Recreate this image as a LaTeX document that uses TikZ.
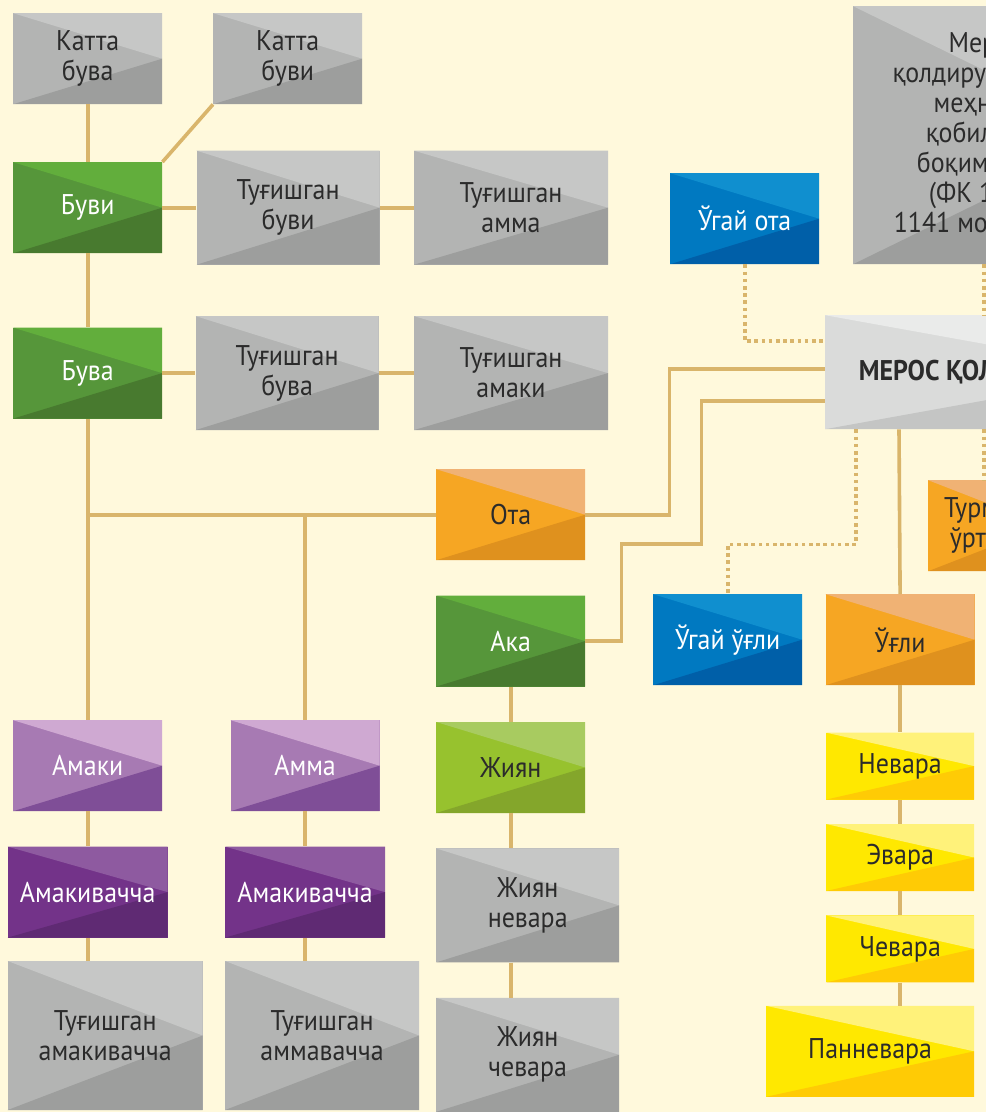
\documentclass[tikz,border=0pt]{standalone}
\usepackage{fontspec}
\setmainfont[FakeStretch=0.91]{PT Sans}
\usetikzlibrary{positioning,calc}

\definecolor{fond}{HTML}{FFF9DC}
\definecolor{lien}{HTML}{D9B56B}
\definecolor{encre}{HTML}{2B2B2B}
\definecolor{gA}{HTML}{B3B4B3}\definecolor{gB}{HTML}{C6C7C6}\definecolor{gC}{HTML}{9D9E9D}
\definecolor{vA}{HTML}{56963A}\definecolor{vB}{HTML}{62AE3C}\definecolor{vC}{HTML}{487A2F}
\definecolor{oA}{HTML}{F6A623}\definecolor{oB}{HTML}{F0B274}\definecolor{oC}{HTML}{DF911E}
\definecolor{bA}{HTML}{0079C1}\definecolor{bB}{HTML}{108FCF}\definecolor{bC}{HTML}{005FA8}
\definecolor{lA}{HTML}{A77AB3}\definecolor{lB}{HTML}{CFA9D2}\definecolor{lC}{HTML}{7F4E97}
\definecolor{pA}{HTML}{733389}\definecolor{pB}{HTML}{8E5AA0}\definecolor{pC}{HTML}{5F2A73}
\definecolor{jA}{HTML}{97C22E}\definecolor{jB}{HTML}{A8CB60}\definecolor{jC}{HTML}{84A62B}
\definecolor{yA}{HTML}{FFE800}\definecolor{yB}{HTML}{FFF27A}\definecolor{yC}{HTML}{FFCB05}
\definecolor{mA}{HTML}{DADBDA}\definecolor{mB}{HTML}{EAEBEA}\definecolor{mC}{HTML}{C4C5C4}

\tikzset{
  boite/.style n args={3}{fill=#1, inner sep=0pt, align=center, text=encre,
    font=\fontsize{28.5}{30}\selectfont,
    path picture={
      \fill[#2] (path picture bounding box.north west) -- (path picture bounding box.north east)
        -- (path picture bounding box.east) -- cycle;
      \fill[#3] (path picture bounding box.south west) -- (path picture bounding box.east)
        -- (path picture bounding box.south east) -- cycle;}},
  petite/.style={minimum width=149pt, minimum height=91pt},
  grande/.style={minimum width=#1, minimum height=114pt},
  gris/.style={boite={gA}{gB}{gC}},
  vert/.style={boite={vA}{vB}{vC}, text=white},
  ambre/.style={boite={oA}{oB}{oC}},
  bleu/.style={boite={bA}{bB}{bC}, text=white},
  mauve/.style={boite={lA}{lB}{lC}, text=white},
  prune/.style={boite={pA}{pB}{pC}, text=white},
  anis/.style={boite={jA}{jB}{jC}},
  jaune/.style={boite={yA}{yB}{yC}, minimum width=148pt, minimum height=67pt},
  perle/.style={boite={mA}{mB}{mC}},
  lien/.style={draw=lien, line width=3.6pt},
  pointille/.style={draw=lien, line width=3.6pt, dash pattern=on 3.6pt off 3.6pt}
}

\begin{document}
\begin{tikzpicture}[x=1pt, y=-1pt]
  \useasboundingbox (0,0) rectangle (986,1112);
  \clip (0,0) rectangle (986,1112);
  \fill[fond] (0,0) rectangle (986,1112);

  % ota tomon
  \node[gris, petite, anchor=north west] (kbuva) at (13,13) {Катта\\бува};
  \node[gris, petite, anchor=north west] (kbuvi) at (213,13) {Катта\\буви};
  \node[vert, petite, anchor=north west] (buvi) at (13,162) {Буви};
  \node[gris, grande=183pt, right=34pt of buvi] (tbuvi) {Туғишган\\буви};
  \node[gris, grande=194pt, right=34pt of tbuvi] (tamma) {Туғишган\\амма};
  \node[vert, petite, below=74pt of buvi] (buva) {Бува};
  \node[gris, grande=183pt, right=33pt of buva] (tbuva) {Туғишган\\бува};
  \node[gris, grande=194pt, right=35pt of tbuva] (tamaki) {Туғишган\\амаки};

  \node[mauve, petite, anchor=north west] (amaki) at (13,720) {Амаки};
  \node[mauve, petite, right=68pt of amaki] (amma) {Амма};
  \node[prune, minimum width=160pt, minimum height=91pt, below=35pt of amaki] (amakiv) {Амакивачча};
  \node[prune, minimum width=160pt, minimum height=91pt, below=35pt of amma] (ammav) {Амакивачча};
  \node[gris, minimum width=195pt, minimum height=149pt, below=23pt of amakiv.south west, anchor=north west] (tamakiv) {Туғишган\\амакивачча};
  \node[gris, minimum width=194pt, minimum height=149pt, below=23pt of ammav.south west, anchor=north west] (tammav) {Туғишган\\аммавачча};

  \node[ambre, petite, anchor=north west] (ota) at (436,469) {Ота};
  \node[vert, petite, below=35pt of ota] (aka) {Ака};
  \node[anis, petite, below=35pt of aka] (jiyan) {Жиян};
  \node[gris, grande=183pt, below=35pt of jiyan.south west, anchor=north west] (jnevara) {Жиян\\невара};
  \node[gris, grande=183pt, below=35pt of jnevara] (jchevara) {Жиян\\чевара};

  % meros qoldiruvchi
  \node[bleu, petite, anchor=north west] (ugota) at (670,173) {Ўгай ота};
  \node[gris, minimum width=264pt, minimum height=258pt, anchor=north west] (qonun) at (853,6)
    {Мерос\\қолдирувчининг\\меҳнатга\\қобилияти\\боқимидаги\\(ФК 1140,\\1141 моддалар)};
  \node[perle, minimum width=316pt, minimum height=114pt, anchor=north west, font=\fontsize{28.5}{30}\selectfont\bfseries] (meros) at (825,315) {МЕРОС ҚОЛДИРУВЧИ};
  \node[ambre, minimum width=117pt, minimum height=91pt, anchor=north west] (turmush) at (928,480) {Турмуш\\ўртоғи};
  \node[bleu, petite, anchor=north west] (ugugli) at (653,594) {Ўгай ўғли};
  \node[ambre, petite, right=23pt of ugugli] (ugli) {Ўғли};
  \node[jaune, below=47pt of ugli] (nevara) {Невара};
  \node[jaune, below=24pt of nevara] (evara) {Эвара};
  \node[jaune, below=24pt of evara] (chevara) {Чевара};
  \node[jaune, minimum width=208pt, minimum height=91pt, below=23pt of chevara.south east, anchor=north east] (pannevara) {Панневара};

  % liens
  \draw[lien] (kbuva) -- (buvi);
  \draw[lien] (kbuvi.south west) -- (buvi.north east);
  \draw[lien] (buvi) -- (tbuvi);
  \draw[lien] (tbuvi) -- (tamma);
  \draw[lien] (buvi) -- (buva);
  \draw[lien] (buva) -- (tbuva);
  \draw[lien] (tbuva) -- (tamaki);
  \draw[lien] (buva) -- (amaki);
  \draw[lien] (ota.west) -- (ota.west -| buva);
  \draw[lien] (amma) -- (amma |- ota);
  \draw[lien] (amaki) -- (amakiv);
  \draw[lien] (amakiv.south) -- (amakiv.south |- tamakiv.north);
  \draw[lien] (amma) -- (ammav);
  \draw[lien] (ammav.south) -- (ammav.south |- tammav.north);
  \draw[lien] (aka) -- (jiyan);
  \draw[lien] (jiyan) -- (jiyan |- jnevara.north);
  \draw[lien] (jiyan.south |- jnevara.south) -- (jiyan.south |- jchevara.north);
  \draw[lien] (ota.east) -- ++(84,0) |- ([yshift=3pt]meros.west);
  \draw[lien] (aka.east) -- ++(36,0) -- ++(0,-97) -- ++(80,0) |- ([yshift=-29pt]meros.west);
  \draw[lien] ([xshift=74pt]meros.south west) -- (ugli.north);
  \draw[lien] (ugli) -- (nevara);
  \draw[lien] (nevara) -- (evara);
  \draw[lien] (evara) -- (chevara);
  \draw[lien] (chevara) -- (chevara |- pannevara.north);
  \draw[pointille] (ugota.south) |- ([yshift=31pt]meros.west);
  \draw[pointille] ([xshift=31pt]meros.south west) -- ++(0,115) -| (ugugli.north);
  \draw[pointille] ([xshift=131pt]qonun.south west) -- ([xshift=159pt]meros.north west);
  \draw[pointille] ([xshift=159pt]meros.south west) -- ([xshift=159pt]meros.south west |- turmush.north);
\end{tikzpicture}
\end{document}
